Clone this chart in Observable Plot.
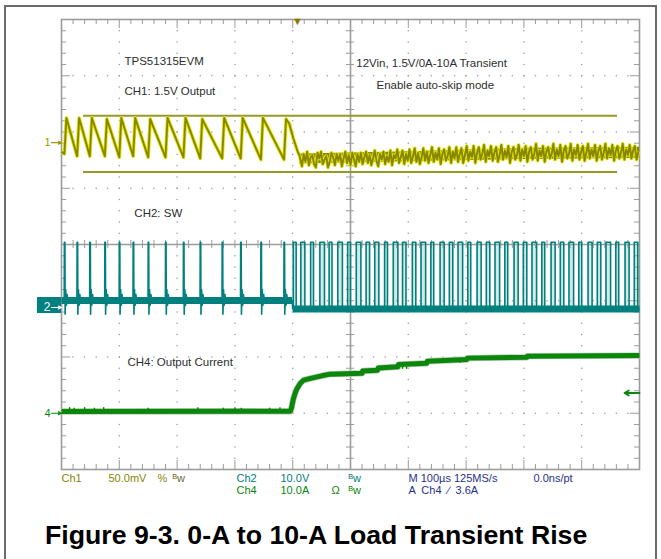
<!DOCTYPE html>
<html><head><meta charset="utf-8">
<script src="https://cdn.jsdelivr.net/npm/d3@7"></script>
<script src="https://cdn.jsdelivr.net/npm/@observablehq/plot@0.6"></script>
<style>
html,body{margin:0;padding:0;background:#fff;}
body{width:661px;height:559px;position:relative;overflow:hidden;font-family:"Liberation Sans",Arial,sans-serif;}
#frame{position:absolute;left:4px;top:5px;width:649px;height:620px;border:2px solid #6a6a6a;}
#chart{position:absolute;left:0;top:0;}
#title{position:absolute;left:45px;top:520px;font-weight:bold;font-size:26.7px;line-height:30px;color:#000;white-space:nowrap;}
</style></head>
<body>
<div id="frame"></div>
<div id="chart"></div>
<div id="title">Figure 9-3. 0-A to 10-A Load Transient Rise</div>
<script>
// ---------- channel settings (units per division, marker offset in divisions) ----------
const ch1Scale = 50,  ch1Offset = 1.81;   // mV/div
const ch2Scale = 10,  ch2Offset = -1.12;  // V/div
const ch4Scale = 10,  ch4Offset = -3.0;   // A/div

// ---------- CH1: 1.5 V output (mV, AC) ----------
const skipPulseTimes   = [5, 27, 49, 75, 100, 124, 150, 180, 211, 240, 278, 310, 345, 385]; // µs
const ch1ToothPeaks    = [22, 22, 22, 21, 22, 22, 21, 22, 22, 21, 22, 22, 22, 21];          // mV
const ch1ToothTroughs  = [-10, -12, -12, -12, -13, -12, -13, -13, -13, -14, -14, -14, -15, -15];
const ch1Start = [0, -8];
const ch1Drop  = [[394, 17], [401, 4], [408, -7], [412, -12]];
const ch1Noise = [
[416,-21],[419,-10],[422,-17],[425,-8],[428,-20],[431,-13],[434,-11],[437,-19],[440,-22],[443,-9],[446,-14],[449,-8],
[452,-19],[455,-15],[458,-12],[461,-22],[464,-17],[467,-9],[470,-13],[473,-20],[476,-10],[479,-16],[482,-10],[485,-21],
[488,-14],[491,-8],[494,-18],[497,-11],[500,-20],[503,-9],[506,-15],[509,-21],[512,-10],[515,-17],[518,-9],[521,-19],
[524,-13],[527,-8],[530,-18],[533,-11],[536,-20],[539,-14],[542,-7],[545,-16],[548,-21],[551,-10],[554,-15],[557,-8],
[560,-19],[563,-12],[566,-17],[569,-7],[572,-20],[575,-11],[578,-14],[581,-6],[584,-18],[587,-13],[590,-7],[593,-19],
[596,-10],[599,-16],[602,-6],[605,-18],[608,-12],[611,-5],[614,-17],[617,-9],[620,-19],[623,-13],[626,-5],[629,-16],
[632,-8],[635,-18],[638,-11],[641,-4],[644,-17],[647,-9],[650,-15],[653,-5],[656,-19],[659,-10],[662,-6],[665,-16],
[668,-12],[671,-4],[674,-18],[677,-8],[680,-14],[683,-4],[686,-17],[689,-10],[692,-5],[695,-18],[698,-11],[701,-3],
[704,-16],[707,-8],[710,-13],[713,-3],[716,-18],[719,-9],[722,-4],[725,-15],[728,-10],[731,-2],[734,-17],[737,-7],
[740,-12],[743,-3],[746,-16],[749,-9],[752,-4],[755,-17],[758,-11],[761,-2],[764,-15],[767,-7],[770,-13],[773,-3],
[776,-18],[779,-8],[782,-4],[785,-15],[788,-11],[791,-2],[794,-16],[797,-6],[800,-12],[803,-3],[806,-17],[809,-8],
[812,-4],[815,-15],[818,-10],[821,-1],[824,-16],[827,-7],[830,-12],[833,-3],[836,-17],[839,-8],[842,-4],[845,-14],
[848,-10],[851,-1],[854,-15],[857,-6],[860,-12],[863,-2],[866,-17],[869,-7],[872,-3],[875,-14],[878,-10],[881,-1],
[884,-16],[887,-6],[890,-11],[893,-2],[896,-15],[899,-8],[902,-3],[905,-16],[908,-9],[911,-1],[914,-14],[917,-6],
[920,-12],[923,-2],[926,-16],[929,-7],[932,-3],[935,-15],[938,-9],[941,-1],[944,-14],[947,-5],[950,-11],[953,-2],
[956,-16],[959,-7],[962,-3],[965,-14],[968,-9],[971,-1],[974,-15],[977,-6],[980,-11],[983,-2],[986,-14],[989,-7],
[992,-3],[995,-15],[998,-8]
];
const ch1Core = [[412,-19,-10],[600,-17,-8],[800,-15,-5],[1000,-14,-4]];
const ch1Cursors = [24, -26];      // mV
const ch1CursorSpan = [38, 962];   // µs

// ---------- CH2: SW node (V) ----------
const swIdle = 1.25, swHigh = 11.6, swLow = -0.27;
const swRing = [[-0.3, 1.25], [0, 11.6], [0.9, 11.6], [1.3, -1.2], [2.3, 3.2], [3.5, 0.4], [4.8, 2.3], [6.2, 0.9], [8, 1.25]];
const swHandoff = 399;
const swCcmPulses = [
[401,406],[414,421],[431,436],[447,455],[463,468],[478,486],[495,500],[510,518],[527,533],[542,549],
[559,564],[574,582],[590,596],[607,613],[622,630],[639,644],[655,662],[671,677],[686,694],[703,708],
[719,726],[735,741],[750,758],[767,772],[783,790],[799,805],[814,822],[831,836],[847,854],[863,869],
[878,886],[895,900],[911,918],[927,933],[942,950],[959,964],[975,982],[991,997]
];

// ---------- CH4: output current (A) ----------
const ch4Trace = [
[0,0.3],[396,0.35],[398,1.0],[401,2.5],[404,3.5],[407,4.3],[413,5.3],[419,5.9],[431,6.2],[452,6.7],
[465,6.95],[520,7.1],[521,7.5],[547,7.65],[548,8.05],[582,8.25],[583,8.65],[632,8.9],[633,9.25],
[701,9.55],[702,9.8],[805,9.95],[806,10.15],[1000,10.25]
];
const ch4Spikes = [
[14,0.3,1.0],[22,0.3,0.9],[40,0.3,1.0],[57,0.3,0.9],[73,0.3,1.0],[150,0.3,0.9],[236,0.3,1.0],
[280,0.3,0.9],[300,0.3,1.0],[311,0.3,0.9],[360,0.3,0.9],[378,0.3,1.0],
[533,7.6,7.2],[590,8.25,7.8],[597,8.25,7.8],[617,8.7,8.3],[666,9.3,8.9],[690,9.3,8.9],[745,9.8,9.4],[757,9.8,9.4]
];
const trigTime = 408;   // µs
const trigLevel = 3.6;  // A

// ---------- texts ----------
const annotationTexts = ["TPS51315EVM", "CH1: 1.5V Output", "12Vin, 1.5V/0A-10A Transient", "Enable auto-skip mode", "CH2: SW", "CH4: Output Current"];
const statusRow1 = ["Ch1", "50.0mV", "%", "ᴮw", "Ch2", "10.0V", "ᴮw", "M 100µs 125MS/s", "0.0ns/pt"];
const statusRow2 = ["Ch4", "10.0A", "Ω", "ᴮw", "A  Ch4  ∕  3.6A"];
const markerLabels = ["1", "2", "4"];

// ---------- layout / style ----------
const annotationAt = [[109, 3.25], [109, 2.72], [510, 3.22], [545, 2.83], [126, 0.55], [114, -2.10]];
const OLIVE = "#868600", YELLOW = "#e6e600", TEAL = "#00807e", GREEN = "#0b870b", NAVY = "#27308f", GRID = "#9c9c9c";
const status1Layout = [[0, OLIVE], [47, OLIVE], [96, OLIVE], [111, "#6b6b3a"], [175, TEAL], [219, TEAL], [287, TEAL], [347, NAVY], [472, NAVY]];
const status2Layout = [[175, GREEN], [219, GREEN], [270, GREEN], [287, GREEN], [347, NAVY]];
const pxPerDiv = 56.25, pxPerUs = 0.578;

const d1 = v => v / ch1Scale + ch1Offset;
const d2 = v => v / ch2Scale + ch2Offset;
const d4 = v => v / ch4Scale + ch4Offset;

// CH1 path
const ch1Pts = [ch1Start];
skipPulseTimes.forEach((t, i) => { ch1Pts.push([t, ch1ToothTroughs[i]]); ch1Pts.push([t + 3.5, ch1ToothPeaks[i]]); });
ch1Drop.forEach(p => ch1Pts.push(p));
ch1Noise.forEach(p => ch1Pts.push(p));

// CH2 path
const swPts = [[0, swIdle]];
skipPulseTimes.forEach(t => swRing.forEach(([dt, v]) => swPts.push([t + dt, v])));
swPts.push([swHandoff, swIdle]); swPts.push([swHandoff + 1, swLow]);
swCcmPulses.forEach(([r, f]) => { swPts.push([r, swLow], [r, swHigh], [f, swHigh], [f, swLow]); });
swPts.push([1000, swLow]);

// graticule
const minorX = d3.range(0, 51).map(i => i * 20);
const majorX = d3.range(0, 11).map(i => i * 100);
const minorY = d3.range(0, 41).map(i => +(-4 + i * 0.2).toFixed(2));
const majorY = d3.range(0, 9).map(i => -4 + i);
const isMajY = y => Math.abs(y - Math.round(y)) < 1e-6;
const dots = [];
majorX.filter(x => x % 500 !== 0).forEach(x => minorY.forEach(y => dots.push([x, y])));
majorY.filter(y => y !== -4 && y !== 0 && y !== 4).forEach(y => minorX.forEach(x => dots.push([x, y])));
const tMin = 5, tMaj = 9, cT = 4;

const statusMarks = [];
statusRow1.forEach((s, i) => statusMarks.push(Plot.text([s], {text: d => d, frameAnchor: "bottom-left", dx: status1Layout[i][0], dy: 12, textAnchor: "start", fill: status1Layout[i][1], fontSize: 11})));
statusRow2.forEach((s, i) => statusMarks.push(Plot.text([s], {text: d => d, frameAnchor: "bottom-left", dx: status2Layout[i][0], dy: 24, textAnchor: "start", fill: status2Layout[i][1], fontSize: 11})));

const markerY = [d1(0), d2(0), d4(0)];
const markerFill = ["#9a9a00", "#ffffff", GREEN];
const markerMarks = [];
markerLabels.forEach((s, i) => {
  markerMarks.push(Plot.text([s], {x: 0, y: markerY[i], text: d => d, textAnchor: "end", dx: -11, fill: markerFill[i], fontSize: i === 1 ? 12 : 11}));
  markerMarks.push(Plot.arrow([s], {x1: -10 / pxPerUs, x2: 0, y1: markerY[i], y2: markerY[i], stroke: markerFill[i], strokeWidth: 1.2, headLength: 5, headAngle: 50}));
});

const plot = Plot.plot({
  width: 661, height: 505,
  marginLeft: 61, marginRight: 22, marginTop: 19, marginBottom: 36,
  x: {domain: [0, 1000], axis: null},
  y: {domain: [-4, 4], axis: null},
  style: {background: "transparent", fontFamily: "'Liberation Sans', Arial, 'DejaVu Sans', sans-serif", overflow: "visible"},
  marks: [
    Plot.dot(dots, {x: d => d[0], y: d => d[1], r: 0.8, fill: GRID, stroke: null}),
    Plot.ruleX(minorX, {x: d => d, y1: 4, y2: d => 4 - (d % 100 === 0 ? tMaj : tMin) / pxPerDiv, stroke: GRID, strokeWidth: 1}),
    Plot.ruleX(minorX, {x: d => d, y1: -4, y2: d => -4 + (d % 100 === 0 ? tMaj : tMin) / pxPerDiv, stroke: GRID, strokeWidth: 1}),
    Plot.ruleY(minorY, {y: d => d, x1: 0, x2: d => (isMajY(d) ? tMaj : tMin) / pxPerUs, stroke: GRID, strokeWidth: 1}),
    Plot.ruleY(minorY, {y: d => d, x1: 1000, x2: d => 1000 - (isMajY(d) ? tMaj : tMin) / pxPerUs, stroke: GRID, strokeWidth: 1}),
    Plot.ruleX(minorX, {x: d => d, y1: -cT / pxPerDiv, y2: cT / pxPerDiv, stroke: GRID, strokeWidth: 1}),
    Plot.ruleY(minorY, {y: d => d, x1: 500 - cT / pxPerUs, x2: 500 + cT / pxPerUs, stroke: GRID, strokeWidth: 1}),
    Plot.ruleX([500], {stroke: GRID, strokeWidth: 1.6}),
    Plot.ruleY([0], {stroke: GRID, strokeWidth: 1.6}),
    Plot.frame({stroke: GRID, strokeWidth: 1.6}),

    // CH1 cursors
    Plot.ruleY(ch1Cursors, {y: d => d1(d), x1: ch1CursorSpan[0], x2: ch1CursorSpan[1], stroke: "#999926", strokeWidth: 2}),

    // CH4
    Plot.line(ch4Trace, {x: d => d[0], y: d => d4(d[1]), stroke: "#b9cbb9", strokeWidth: 6.4, strokeLinecap: "butt"}),
    Plot.line(ch4Trace, {x: d => d[0], y: d => d4(d[1]), stroke: GREEN, strokeWidth: 5, strokeLinecap: "butt"}),
    Plot.ruleX(ch4Spikes, {x: d => d[0], y1: d => d4(d[1]), y2: d => d4(d[2]), stroke: GREEN, strokeWidth: 1.4}),

    // CH2
    Plot.rectY(swCcmPulses, {x1: d => d[0], x2: d => d[1], y1: d2(swLow), y2: d2(swHigh), fill: "#7fc1bf", fillOpacity: 0.35}),
    Plot.line([[0, swIdle], [swHandoff, swIdle]], {x: d => d[0], y: d => d2(d[1]), stroke: TEAL, strokeWidth: 7, strokeLinecap: "butt"}),
    Plot.line([[swHandoff + 1, swLow], [1000, swLow]], {x: d => d[0], y: d => d2(d[1]), stroke: TEAL, strokeWidth: 7, strokeLinecap: "butt"}),
    Plot.line(swPts, {x: d => d[0], y: d => d2(d[1]), stroke: TEAL, strokeWidth: 1.6, strokeLinecap: "butt"}),

    // CH1
    Plot.areaY(ch1Core, {x: d => d[0], y1: d => d1(d[1]), y2: d => d1(d[2]), fill: OLIVE}),
    Plot.line(ch1Pts, {x: d => d[0], y: d => d1(d[1]), stroke: YELLOW, strokeWidth: 3.6, strokeLinecap: "butt"}),
    Plot.line(ch1Pts, {x: d => d[0], y: d => d1(d[1]), stroke: OLIVE, strokeWidth: 1.9, strokeLinecap: "butt"}),

    // annotations
    Plot.text(annotationTexts, {x: (d, i) => annotationAt[i][0], y: (d, i) => annotationAt[i][1], text: d => d, textAnchor: "start", fill: "#2e2e2e", fontSize: 11.5}),

    // channel markers
    Plot.rect([0], {x1: -24 / pxPerUs, x2: 0, y1: d2(0) - 6 / pxPerDiv, y2: d2(0) + 10 / pxPerDiv, fill: TEAL}),
    ...markerMarks,
    Plot.arrow([trigLevel], {x1: 1000, x2: 1000 - 15 / pxPerUs, y1: d => d4(d), y2: d => d4(d), stroke: GREEN, strokeWidth: 1.8, headLength: 7}),
    Plot.text(["▼"], {x: trigTime, y: 4, text: d => d, fill: "#8a7a00", fontSize: 11, lineAnchor: "top", dy: -2}),
    ...statusMarks
  ]
});
document.getElementById("chart").appendChild(plot);
</script>
</body></html>
